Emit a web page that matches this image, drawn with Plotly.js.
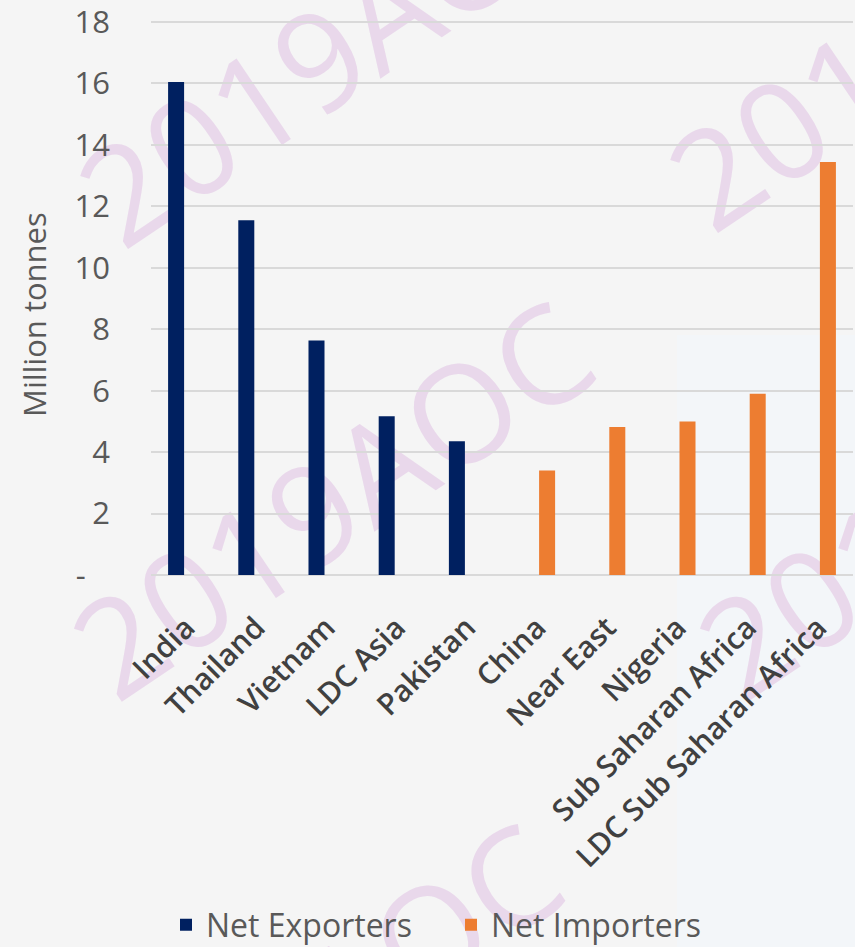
<!DOCTYPE html>
<html>
<head>
<meta charset="utf-8">
<script src="https://cdn.plot.ly/plotly-3.0.1.min.js"></script>
<style>
  html, body { margin: 0; padding: 0; background: #f5f5f5; }
  #chart { width: 855px; height: 947px; }
</style>
</head>
<body>
<div id="chart"></div>
<script>
// ---- Data ----
const categories = ['India', 'Thailand', 'Vietnam', 'LDC Asia', 'Pakistan',
  'China', 'Near East', 'Nigeria', 'Sub Saharan Africa', 'LDC Sub Saharan Africa'];
const netExporters = [16.05, 11.55, 7.63, 5.17, 4.35, null, null, null, null, null];
const netImporters = [null, null, null, null, null, 3.40, 4.82, 5.00, 5.90, 13.44];
const yTickVals = [0, 2, 4, 6, 8, 10, 12, 14, 16, 18];
const yTickText = ['-\u00a0\u00a0\u00a0', '2', '4', '6', '8', '10', '12', '14', '16', '18'];
const seriesNames = ['Net Exporters', 'Net Importers'];
const yTitle = 'Million tonnes';
const watermarkText = '2019AOC';

// ---- Styling / placement (pixel helpers) ----
const FONT = '"Open Sans", "Noto Sans", sans-serif';
const PL = 151, PT = 20, PB = 372, W = 855, H = 947;
const plotW = W - PL - 2, plotH = H - PT - PB;
const px2x = px => (px - PL) / plotW;
const py2y = py => (H - PB - py) / plotH;

const wmPixelCenters = [[342, 52], [336, 505], [305, 1027], [932, 36], [962, 505]];
const wmShapes = wmPixelCenters.map(c => {
  const cx = px2x(c[0]), cy = py2y(c[1]);
  return {
    type: 'rect', xref: 'paper', yref: 'paper', layer: 'below',
    x0: cx - 0.001, x1: cx + 0.001, y0: cy - 0.001, y1: cy + 0.001,
    line: { width: 0 }, fillcolor: 'rgba(0,0,0,0)',
    label: {
      text: watermarkText, textangle: -34, textposition: 'middle center',
      font: { family: FONT, size: 136, color: '#e9d8eb' }
    }
  };
});

const traces = [
  {
    type: 'bar', name: seriesNames[0], x: categories, y: netExporters,
    marker: { color: '#002060' }, hoverinfo: 'x+y'
  },
  {
    type: 'bar', name: seriesNames[1], x: categories, y: netImporters,
    marker: { color: '#ED7D31' }, hoverinfo: 'x+y'
  }
];

const layout = {
  width: W, height: H,
  margin: { l: PL, r: 2, t: PT, b: PB, autoexpand: false },
  paper_bgcolor: '#f5f5f5',
  plot_bgcolor: 'rgba(0,0,0,0)',
  barmode: 'group',
  bargap: 0.43,
  bargroupgap: 0.2,
  font: { family: FONT, color: '#595959' },
  xaxis: {
    type: 'category',
    tickangle: -45,
    tickfont: { family: FONT, size: 30, color: '#404040', weight: 600 },
    ticklabelstandoff: 28,
    automargin: false,
    showgrid: false, showline: false, zeroline: false, ticks: ''
  },
  yaxis: {
    range: [0, plotH / (553 / 18)],
    tickvals: yTickVals, ticktext: yTickText,
    tickfont: { family: FONT, size: 31, color: '#595959' },
    ticklabelstandoff: 40,
    ticklabeloverflow: 'allow',
    automargin: false,
    showgrid: true, gridcolor: '#d9d9d9', gridwidth: 1.5,
    zeroline: true, zerolinecolor: '#d9d9d9', zerolinewidth: 1.5,
    showline: false, ticks: ''
  },
  annotations: [
    {
      text: yTitle, xref: 'paper', yref: 'paper',
      x: px2x(34), y: py2y(315), xanchor: 'center', yanchor: 'middle',
      textangle: -90, showarrow: false,
      font: { family: FONT, size: 31, color: '#595959' }
    }
  ],
  showlegend: true,
  legend: {
    orientation: 'h', x: px2x(166), xanchor: 'left', y: py2y(925), yanchor: 'middle',
    font: { family: FONT, size: 32, color: '#595959' },
    entrywidth: 240, entrywidthmode: 'pixels',
    bgcolor: 'rgba(0,0,0,0)', traceorder: 'normal'
  },
  shapes: [
    {
      type: 'rect', xref: 'paper', yref: 'paper', layer: 'below',
      x0: px2x(677), x1: px2x(860), y0: py2y(335), y1: py2y(960),
      line: { width: 0 }, fillcolor: '#f3f6f9'
    }
  ].concat(wmShapes)
};

Plotly.newPlot('chart', traces, layout, { displayModeBar: false, responsive: false });
</script>
</body>
</html>
